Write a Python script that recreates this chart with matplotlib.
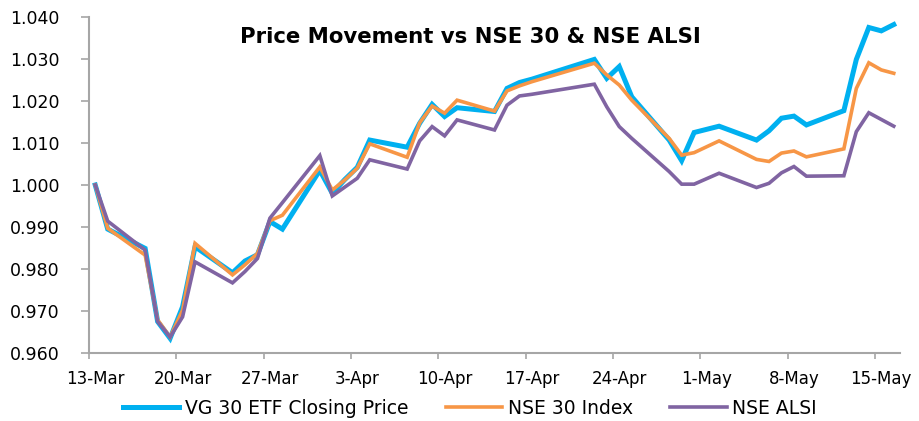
import matplotlib
import numpy as np
import pandas as pd

matplotlib.use('Agg')
import matplotlib.dates as mdates
import matplotlib.pyplot as plt

dates = [
    '2014-03-13', '2014-03-14', '2014-03-17', '2014-03-18', '2014-03-19', '2014-03-20', '2014-03-21',
    '2014-03-24', '2014-03-25', '2014-03-26', '2014-03-27', '2014-03-28', '2014-03-31', '2014-04-01',
    '2014-04-02', '2014-04-03', '2014-04-04', '2014-04-07', '2014-04-08', '2014-04-09', '2014-04-10',
    '2014-04-11', '2014-04-14', '2014-04-15', '2014-04-16', '2014-04-17', '2014-04-22', '2014-04-23',
    '2014-04-24', '2014-04-25', '2014-04-28', '2014-04-29', '2014-04-30', '2014-05-02', '2014-05-05',
    '2014-05-06', '2014-05-07', '2014-05-08', '2014-05-09', '2014-05-12', '2014-05-13', '2014-05-14',
    '2014-05-15', '2014-05-16',
]
vg30_etf = [
    1.0000, 0.9895, 0.9849, 0.9675, 0.9635, 0.9710, 0.9853,
    0.9791, 0.9819, 0.9834, 0.9913, 0.9895, 1.0035, 0.9980,
    1.0013, 1.0042, 1.0107, 1.0090, 1.0147, 1.0192, 1.0163,
    1.0184, 1.0175, 1.0230, 1.0244, 1.0252, 1.0299, 1.0254,
    1.0282, 1.0210, 1.0107, 1.0058, 1.0125, 1.0140, 1.0107,
    1.0129, 1.0159, 1.0164, 1.0143, 1.0177, 1.0299, 1.0375,
    1.0367, 1.0382,
]
nse30_index = [
    1.0000, 0.9897, 0.9833, 0.9679, 0.9638, 0.9702, 0.9861,
    0.9786, 0.9810, 0.9837, 0.9915, 0.9928, 1.0043, 0.9988,
    1.0012, 1.0040, 1.0098, 1.0066, 1.0148, 1.0188, 1.0171,
    1.0202, 1.0176, 1.0224, 1.0236, 1.0246, 1.0290, 1.0262,
    1.0238, 1.0202, 1.0111, 1.0071, 1.0077, 1.0105, 1.0061,
    1.0056, 1.0076, 1.0081, 1.0067, 1.0086, 1.0230, 1.0291,
    1.0274, 1.0266,
]
nse_alsi = [
    1.0000, 0.9914, 0.9845, 0.9675, 0.9638, 0.9686, 0.9817,
    0.9767, 0.9794, 0.9825, 0.9921, 0.9958, 1.0070, 0.9974,
    0.9995, 1.0016, 1.0060, 1.0038, 1.0105, 1.0139, 1.0117,
    1.0155, 1.0131, 1.0190, 1.0212, 1.0216, 1.0240, 1.0186,
    1.0139, 1.0111, 1.0032, 1.0002, 1.0002, 1.0028, 0.9994,
    1.0004, 1.0029, 1.0044, 1.0021, 1.0022, 1.0127, 1.0172,
    1.0156, 1.0140,
]
series_labels = ['VG 30 ETF Closing Price', 'NSE 30 Index', 'NSE ALSI']
tick_dates = pd.date_range('2014-03-13', '2014-05-15', freq='7D')

plt.rcParams['font.family'] = ['DejaVu Sans']

# Excel puts each day's point (and label) in the middle of its slot
x = mdates.date2num(pd.to_datetime(dates)) + 0.5
tick_x = mdates.date2num(tick_dates)

fig = plt.figure(figsize=(9.19, 4.21), dpi=100)
ax = fig.add_axes([89 / 919, 68 / 421, 811 / 919, 336 / 421])

colors = ['#00B0F0', '#F79646', '#8064A2']
widths = [3.6, 2.6, 2.6]
for values, label, color, width in zip([vg30_etf, nse30_index, nse_alsi], series_labels, colors, widths):
    ax.plot(x, values, color=color, lw=width, label=label, solid_joinstyle='miter')

ax.set_xlim(mdates.date2num(pd.Timestamp('2014-03-13')), mdates.date2num(pd.Timestamp('2014-05-17')))
ax.set_ylim(0.96, 1.04)
ax.set_yticks(np.arange(0.96, 1.0401, 0.01))
ax.set_yticklabels([f'{v:.3f}' for v in np.arange(0.96, 1.0401, 0.01)])
ax.set_xticks(tick_x)
ax.set_xticklabels([])
ax.set_xticks(tick_x + 0.5, minor=True)
ax.set_xticklabels([f"{d.day}-{d.strftime('%b')}" for d in tick_dates], minor=True)
ax.yaxis.set_minor_locator(matplotlib.ticker.NullLocator())

for side in ('top', 'right'):
    ax.spines[side].set_visible(False)
for side in ('left', 'bottom'):
    ax.spines[side].set_color('#A6A6A6')
    ax.spines[side].set_linewidth(1.5)
ax.tick_params(axis='both', colors='#A6A6A6', labelcolor='black', width=1.2)
ax.tick_params(axis='y', length=6, pad=15, labelsize=12.5)
ax.tick_params(axis='x', which='major', length=4)
ax.tick_params(axis='x', which='minor', length=0, pad=12, labelsize=12)

ax.text(0.47, 0.94, 'Price Movement vs NSE 30 & NSE ALSI', transform=ax.transAxes,
        ha='center', va='center', fontsize=15.3, fontweight='bold')

fig.legend(loc='center', bbox_to_anchor=(470 / 919, 13 / 421), ncol=3, frameon=False, fontsize=13.5,
           handlelength=3.0, handletextpad=0.3, columnspacing=2.0)

fig.savefig('out.png', dpi=100)
plt.close(fig)
